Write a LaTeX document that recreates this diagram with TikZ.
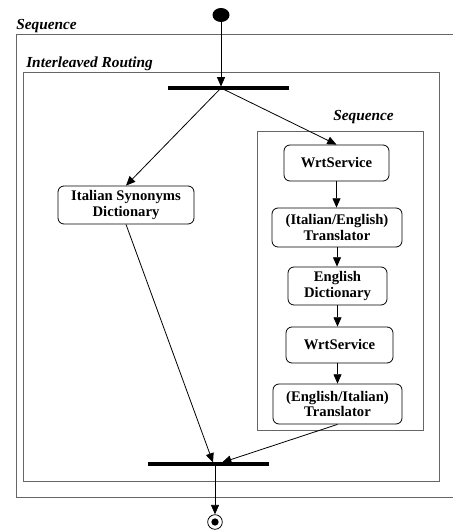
\documentclass[tikz,border=0pt]{standalone}
\usepackage{fontspec}
\setmainfont{Liberation Serif}
\usepackage{tikz}
\usetikzlibrary{calc}
\usetikzlibrary{arrows.meta,shapes.geometric}

\tikzset{
	activity/.style={draw, line width=0.6pt, rounded corners=4.5pt, align=center, inner sep=0pt,
		font=\fontsize{11}{11.8}\selectfont\bfseries},
	syncbar/.style={fill=black, inner sep=0pt, minimum height=2.4pt},
	region/.style={draw=black!60, line width=0.7pt},
	regionlabel/.style={inner sep=0pt, anchor=base west, font=\fontsize{11.5}{12}\selectfont\bfseries\itshape},
	flow/.style={line width=0.6pt, -{Triangle[length=7pt,width=6pt]}},
}

\begin{document}
\begin{tikzpicture}[x=0.75pt, y=-0.75pt]
			\useasboundingbox (0,0) rectangle (453,530);

			%regions
			\draw[region] (453,34) -- (16,34) -- (16,497) -- (453,497);
			\draw[region] (23,72) rectangle (439,481);
			\draw[region] (257,131) rectangle (423,430);

			\node[regionlabel] (seqouter) at (16,30) {Sequence};
			\node[regionlabel] (interleaved) at (26,68) {Interleaved Routing};
			\node[regionlabel] (seqinner) at (333,121) {Sequence};

			%start, fork and join
			\node[ellipse, fill=black, inner sep=0pt, minimum width=12.75pt, minimum height=10.5pt] (start) at (221,15) {};
			\node[syncbar, minimum width=90.75pt] (fork) at (228.5,88) {};
			\coordinate (f0) at (221,86.5);
			\coordinate (f1) at (221,88);

			\node[syncbar, minimum width=90.75pt] (join) at (208.5,464) {};
			\coordinate (j1) at (213,462.5);
			\coordinate (j2) at (222,462.5);
			\coordinate (j0) at (215,464);

			\node[circle, draw, line width=0.6pt, inner sep=0pt, minimum size=11pt] (fin) at (215,522) {};
			\node[circle, fill=black, inner sep=0pt, minimum size=5.5pt] (findot) at (fin.center) {};

			%activities
			\node[activity, minimum width=102pt, minimum height=28.5pt] (syn) at (126,205) {Italian Synonyms\\Dictionary};

			\node[activity, minimum width=78.75pt, minimum height=27pt] (ws1) at (336.5,163) {WrtService};
			\node[activity, minimum width=97.5pt, minimum height=29.25pt] (ie) at (337,227.5) {(Italian/English)\\Translator};
			\node[activity, minimum width=74.25pt, minimum height=28.5pt] (ed) at (337.5,286) {English\\Dictionary};
			\node[activity, minimum width=80.25pt, minimum height=27pt] (ws2) at (339.5,345) {WrtService};
			\node[activity, minimum width=96.75pt, minimum height=30pt] (ei) at (337.5,404) {(English/Italian)\\Translator};

			%flows
			\draw[flow] (start) -- (f0);
			\draw[flow] (f1) -- (syn.north);
			\draw[flow] (f1) -- (ws1.north);

			\draw[flow] (ws1.south) -- (ws1.south |- ie.north);
			\draw[flow] (ie.south) -- (ie.south |- ed.north);
			\draw[flow] (ed.south) -- (ed.south |- ws2.north);
			\draw[flow] (ed.south |- ws2.south) -- (ed.south |- ei.north);

			\draw[flow] (syn.south) -- (j1);
			\draw[flow] (ei.south) -- (j2);
			\draw[flow] (j0) -- (fin);

		\end{tikzpicture}
\end{document}
